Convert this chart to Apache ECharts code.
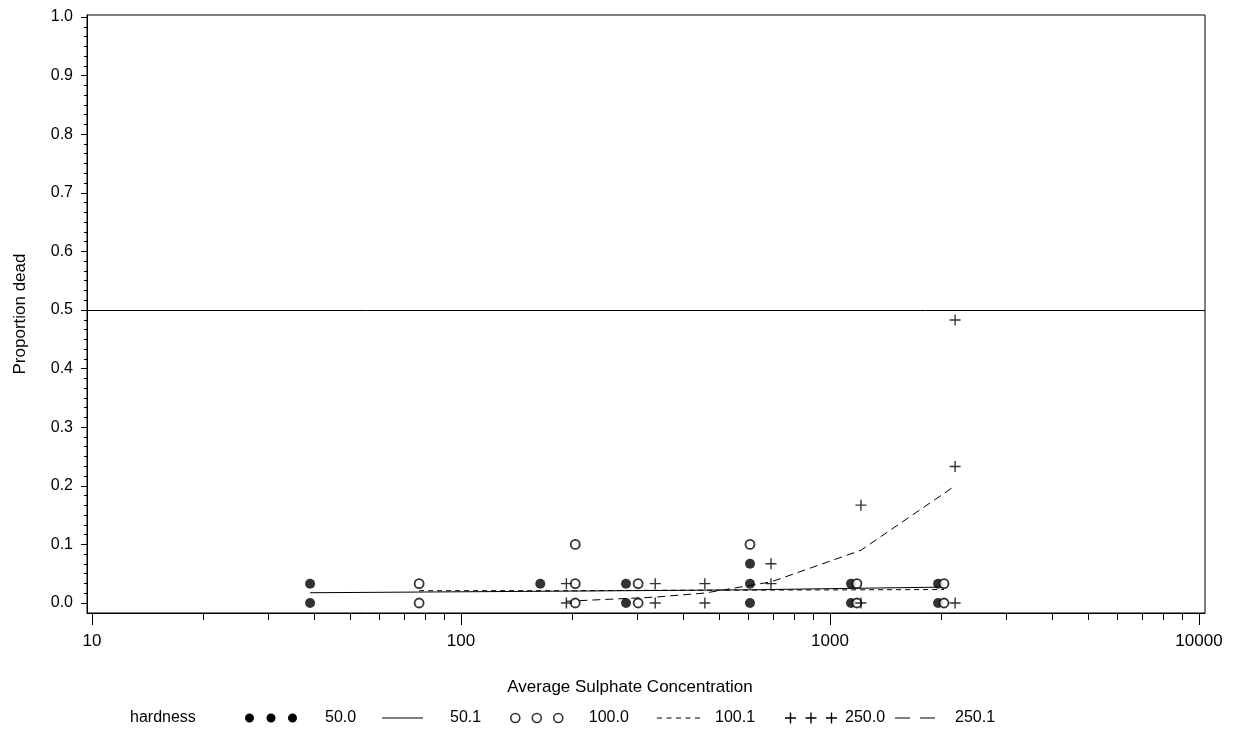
<!DOCTYPE html>
<html><head><meta charset="utf-8">
<script src="https://cdn.jsdelivr.net/npm/echarts@6/dist/echarts.min.js"></script>
<style>html,body{margin:0;padding:0;background:#fff}#c{width:1239px;height:736px}</style>
</head><body><div id="c"></div>
<script>
// ---- data ----
const obs50  = [[39,0.033],[39,0],[164,0.033],[280,0.033],[280,0],[607,0.067],[607,0.033],[607,0],[1140,0.033],[1140,0],[1963,0.033],[1963,0]];
const obs100 = [[77,0.033],[77,0],[204,0.1],[204,0.033],[204,0],[302,0.033],[302,0],[607,0.1],[1183,0.033],[1183,0],[2037,0.033],[2037,0]];
const obs250 = [[193,0.033],[193,0],[336,0.033],[336,0],[458,0.033],[458,0],[692,0.067],[692,0.033],[1213,0.167],[1213,0],[2183,0.483],[2183,0.233],[2183,0]];
const fit50X  = [39,164,280,607,1140,1963];
const fit50Y  = [0.0175,0.020,0.021,0.0225,0.025,0.027];
const fit100X = [77,204,302,607,1183,2037];
const fit100Y = [0.021,0.021,0.0215,0.022,0.0225,0.023];
const fit250X = [193,336,458,692,1213,2183];
const fit250Y = [0.003,0.010,0.017,0.036,0.090,0.200];
const refLineY = 0.5;
const xTicks = [10,100,1000,10000];
const yTicks = [0,0.1,0.2,0.3,0.4,0.5,0.6,0.7,0.8,0.9,1.0];
const legendTitle = 'hardness';
const names = ['50.0','50.1','100.0','100.1','250.0','250.1'];

// ---- axis helpers ----
const xMinor = [];
[10,100,1000].forEach(d => { for (let k = 2; k <= 9; k++) xMinor.push(d*k); });
const yMinor = [];
for (let i = 0; i <= 60; i++) if (i % 6 !== 0) yMinor.push(i/60);
const xMin = 9.693, xMax = 10381, yMin = -0.01706, yMax = 1.0034;
const FF = '"Liberation Sans", Arial, sans-serif';
const TS = {color:'#000', fontFamily:FF, fontSize:16};
const TS17 = {color:'#000', fontFamily:FF, fontSize:17};
const zip = (xs, ys) => xs.map((x,i) => [x, ys[i]]);

const plusPath = 'path://M4.8,0H6.2V4.8H11V6.2H6.2V11H4.8V6.2H0V4.8H4.8Z';
const dots3 = 'path://M0,4.5a4.5,4.5 0 1,0 9,0a4.5,4.5 0 1,0 -9,0Z M21.5,4.5a4.5,4.5 0 1,0 9,0a4.5,4.5 0 1,0 -9,0Z M43,4.5a4.5,4.5 0 1,0 9,0a4.5,4.5 0 1,0 -9,0Z';
const plus3 = 'path://M4.8,0H6.2V4.8H11V6.2H6.2V11H4.8V6.2H0V4.8H4.8Z M25.3,0H26.7V4.8H31.5V6.2H26.7V11H25.3V6.2H20.5V4.8H25.3Z M45.8,0H47.2V4.8H52V6.2H47.2V11H45.8V6.2H41V4.8H45.8Z';
const solidIcon = 'path://M0,0H41V1H0Z';
const shortDashIcon = 'path://M0,0H5V1H0Z M9.5,0H14.5V1H9.5Z M19,0H24V1H19Z M28.5,0H33.5V1H28.5Z M38,0H43V1H38Z';
const longDashIcon = 'path://M0,0H15V1H0Z M25,0H40V1H25Z';

function leg(name, left, w, h, pad, icon, itemStyle) {
  return {data:[{name:name, icon:icon, itemStyle:itemStyle}], left:left, top:710, itemWidth:w, itemHeight:h,
    selectedMode:false, padding:0,
    textStyle:Object.assign({}, TS, {padding:[0,0,0,pad]})};
}
const blackFill = {color:'#000', borderWidth:0, opacity:1};

const chart = echarts.init(document.getElementById('c'), null, {renderer:'canvas'});
chart.setOption({
  animation:false,
  backgroundColor:'#fff',
  title:{text:legendTitle, left:130, top:710, padding:0, textStyle:Object.assign({}, TS, {fontWeight:'normal'})},
  legend:[
    leg(names[0], 245, 52, 9, 23, dots3, blackFill),
    leg(names[1], 382, 41, 1.4, 22, solidIcon, blackFill),
    leg(names[2], 510, 54, 9, 20, dots3, {color:'#fff', borderColor:'#000', borderWidth:1.6}),
    leg(names[3], 657, 43, 1.4, 10, shortDashIcon, blackFill),
    leg(names[4], 785, 52, 11, 3, plus3, blackFill),
    leg(names[5], 895, 40, 1.4, 15, longDashIcon, blackFill)
  ],
  grid:{left:87, right:34, top:15, bottom:123, show:true, borderColor:'#000', borderWidth:1, outerBoundsMode:'none'},
  xAxis:[
    {type:'log', logBase:10, min:xMin, max:xMax, position:'bottom',
     axisLine:{show:true, onZero:false, lineStyle:{color:'#000', width:1}},
     axisTick:{show:true, length:12, customValues:xTicks, lineStyle:{color:'#000', width:1}},
     axisLabel:{customValues:xTicks, formatter:v => String(Math.round(v)), margin:20, color:'#000', fontFamily:FF, fontSize:17},
     splitLine:{show:false}, minorTick:{show:false},
     name:'Average Sulphate Concentration', nameLocation:'middle', nameGap:66, nameTextStyle:Object.assign({}, TS17, {padding:[0,32,0,0]})},
    {type:'log', logBase:10, min:xMin, max:xMax, position:'bottom',
     axisLine:{show:false, onZero:false}, axisLabel:{show:false}, splitLine:{show:false},
     axisTick:{show:true, length:7, customValues:xMinor, lineStyle:{color:'#000', width:1}}}
  ],
  yAxis:[
    {type:'value', min:yMin, max:yMax, position:'left',
     axisLine:{show:true, onZero:false, lineStyle:{color:'#000', width:1}},
     axisTick:{show:true, length:6, customValues:yTicks, lineStyle:{color:'#000', width:1}},
     axisLabel:{customValues:yTicks, formatter:v => v.toFixed(1), margin:14, color:'#000', fontFamily:FF, fontSize:16},
     splitLine:{show:false},
     name:'Proportion dead', nameLocation:'middle', nameGap:58, nameRotate:90, nameTextStyle:TS17},
    {type:'value', min:yMin, max:yMax, position:'left',
     axisLine:{show:false, onZero:false}, axisLabel:{show:false}, splitLine:{show:false},
     axisTick:{show:true, length:3, customValues:yMinor, lineStyle:{color:'#000', width:1}}}
  ],
  series:[
    {name:names[0], type:'scatter', data:obs50, symbol:'circle', symbolSize:10, itemStyle:{color:'#000'}, z:3},
    {name:names[1], type:'line', data:zip(fit50X, fit50Y), symbol:'none', color:'#000', lineStyle:{color:'#000', width:1, type:'solid'}, z:2,
     markLine:{silent:true, symbol:'none', label:{show:false}, lineStyle:{color:'#000', width:1, type:'solid'}, data:[{yAxis:refLineY}]}},
    {name:names[2], type:'scatter', data:obs100, symbol:'circle', symbolSize:9, itemStyle:{color:'#fff', borderColor:'#000', borderWidth:1.8}, z:3},
    {name:names[3], type:'line', data:zip(fit100X, fit100Y), symbol:'none', color:'#000', lineStyle:{color:'#000', width:1, type:[5,4]}, z:2},
    {name:names[4], type:'scatter', data:obs250, symbol:plusPath, symbolSize:11, itemStyle:{color:'#000'}, z:3},
    {name:names[5], type:'line', data:zip(fit250X, fit250Y), symbol:'none', color:'#000', lineStyle:{color:'#000', width:1, type:[8,5]}, z:2}
  ]
});
</script></body></html>
